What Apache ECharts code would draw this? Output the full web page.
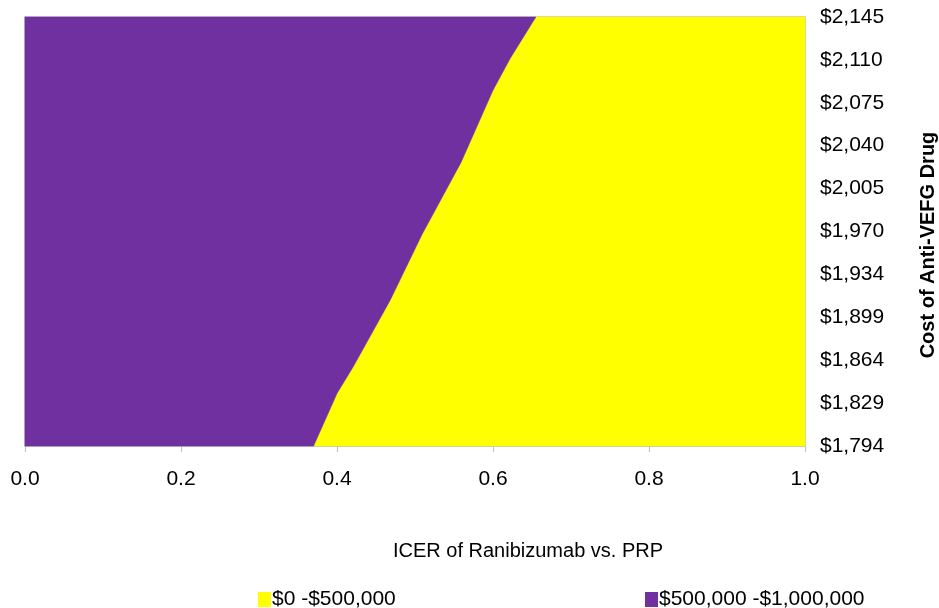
<!DOCTYPE html>
<html>
<head>
<meta charset="utf-8">
<title>ICER contour</title>
<script src="https://cdn.jsdelivr.net/npm/echarts@6/dist/echarts.min.js"></script>
<style>
  html, body { margin: 0; padding: 0; background: #ffffff; }
  #chart { width: 939px; height: 608px; }
</style>
</head>
<body>
<div id="chart"></div>
<script>
// Band names (legend entries)
const bandNames = ['$0 -$500,000', '$500,000 -$1,000,000'];
const bandColors = ['#FFFF00', '#7030A0'];

// Boundary between the two ICER bands: probability (x) against drug cost (y)
const boundaryX = [0.370, 0.400, 0.421, 0.468, 0.509, 0.559, 0.600, 0.622, 0.655];
const boundaryY = [1794, 1837, 1859, 1913, 1967, 2026, 2085, 2111, 2145];

// Axis ranges and tick labels
const xTicks = [0.0, 0.2, 0.4, 0.6, 0.8, 1.0];
const yMin = 1794, yMax = 2145, yStep = 35.1;
const yTickLabels = ['$1,794', '$1,829', '$1,864', '$1,899', '$1,934', '$1,970',
                     '$2,005', '$2,040', '$2,075', '$2,110', '$2,145'];

const FONT = '"Liberation Sans", Arial, sans-serif';

// Polygon for each band, built from the boundary
function bandPolygon(side) {
  const pts = boundaryX.map((x, i) => [x, boundaryY[i]]);
  const xMin = xTicks[0], xMax = xTicks[xTicks.length - 1];
  if (side === 'right') {
    return pts.concat([[xMax, yMax], [xMax, yMin]]);
  }
  return pts.concat([[xMin, yMax], [xMin, yMin]]);
}

function polygonSeries(name, color, side) {
  const poly = bandPolygon(side);
  return {
    type: 'custom',
    name: name,
    data: [[0, yMin]],
    silent: true,
    itemStyle: { color: color },
    renderItem: function (params, api) {
      const points = poly.map(p => api.coord(p));
      return {
        type: 'polygon',
        shape: { points: points },
        style: { fill: color, stroke: color, lineWidth: 0.5 }
      };
    }
  };
}

const chart = echarts.init(document.getElementById('chart'), null, { renderer: 'canvas' });

const legendBase = {
  icon: 'rect',
  itemWidth: 13,
  itemHeight: 15,
  itemGap: 2,
  padding: 0,
  top: 589,
  selectedMode: false,
  textStyle: { fontFamily: FONT, fontSize: 21, color: '#000', padding: [0, 0, 0, -4] }
};

chart.setOption({
  animation: false,
  backgroundColor: '#ffffff',
  grid: {
    left: 25, right: 134, top: 17, bottom: 162,
    show: true, borderColor: '#bfbfbf', borderWidth: 1.5, backgroundColor: 'transparent'
  },
  legend: [
    Object.assign({ left: 258, data: [bandNames[0]] }, legendBase),
    Object.assign({ left: 645, data: [bandNames[1]] }, legendBase)
  ],
  xAxis: {
    type: 'value',
    min: xTicks[0],
    max: xTicks[xTicks.length - 1],
    interval: 0.2,
    axisLine: { show: true, lineStyle: { color: '#bfbfbf', width: 1.5 } },
    axisTick: { show: true, length: 6, lineStyle: { color: '#bfbfbf' } },
    splitLine: { show: false },
    axisLabel: {
      fontFamily: FONT, fontSize: 21, color: '#000', margin: 23,
      formatter: v => v.toFixed(1)
    }
  },
  yAxis: {
    type: 'value',
    position: 'right',
    min: yMin,
    max: yMax,
    interval: yStep,
    axisLine: { show: true, lineStyle: { color: '#bfbfbf', width: 1.5 } },
    axisTick: { show: true, length: 5, lineStyle: { color: '#bfbfbf' } },
    splitLine: { show: false },
    axisLabel: {
      fontFamily: FONT, fontSize: 21, color: '#000', margin: 15,
      formatter: v => yTickLabels[Math.round((v - yMin) / yStep)]
    }
  },
  graphic: [{
    type: 'text',
    x: 528,
    y: 551,
    style: {
      text: 'ICER of Ranibizumab vs. PRP',
      fontFamily: FONT, fontSize: 20, fill: '#000',
      align: 'center', verticalAlign: 'middle'
    }
  }, {
    type: 'text',
    x: 928,
    y: 245,
    rotation: Math.PI / 2,
    style: {
      text: 'Cost of Anti-VEFG Drug',
      fontFamily: FONT, fontSize: 20, fontWeight: 'bold', fill: '#000',
      align: 'center', verticalAlign: 'middle'
    }
  }],
  series: [
    polygonSeries(bandNames[0], bandColors[0], 'right'),
    polygonSeries(bandNames[1], bandColors[1], 'left')
  ]
});
</script>
</body>
</html>
